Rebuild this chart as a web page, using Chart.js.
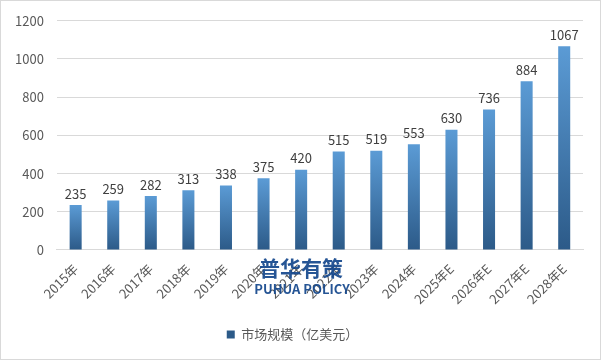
<!DOCTYPE html>
<html>
<head>
<meta charset="utf-8">
<script src="https://cdn.jsdelivr.net/npm/chart.js@4"></script>
<style>
  html, body { margin: 0; padding: 0; background: #fff; }
  #wrap { width: 601px; height: 360px; position: relative; }
</style>
</head>
<body>
<div id="wrap"><canvas id="chart"></canvas></div>
<script>
// categorie e valori
const anni = ["2015年", "2016年", "2017年", "2018年", "2019年", "2020年", "2021年", "2022年", "2023年", "2024年", "2025年E", "2026年E", "2027年E", "2028年E"];
const mercato = [235, 259, 282, 313, 338, 375, 420, 515, 519, 553, 630, 736, 884, 1067];
const tickY = [0, 200, 400, 600, 800, 1000, 1200];
const nomeSerie = "市场规模（亿美元）";

const font = "'Noto Sans CJK SC', 'Open Sans', sans-serif";

// gradiente per ogni barra (chiaro in alto, scuro in basso)
function sfumatura(ctx) {
  const chart = ctx.chart;
  const area = chart.chartArea;
  if (!area || ctx.type !== "data") return "#3f78b3";
  const y = chart.scales.y;
  const top = y.getPixelForValue(ctx.parsed.y);
  const bot = y.getPixelForValue(0);
  const g = chart.ctx.createLinearGradient(0, top, 0, bot);
  g.addColorStop(0, "#5b9bd5");
  g.addColorStop(1, "#2c5a88");
  return g;
}

// etichette sopra le barre
const etichette = {
  id: "etichette",
  afterDatasetsDraw(chart) {
    const c = chart.ctx;
    c.save();
    c.font = "13px " + font;
    c.fillStyle = "#404040";
    c.textAlign = "center";
    c.textBaseline = "bottom";
    chart.getDatasetMeta(0).data.forEach((bar, i) => {
      c.fillText(mercato[i], bar.x, bar.y - 5);
    });
    c.restore();
  }
};

// bordo esterno e marchio
const cornice = {
  id: "cornice",
  beforeDraw(chart) {
    const c = chart.ctx;
    c.save();
    c.fillStyle = "#fff";
    c.fillRect(0, 0, chart.width, chart.height);
    c.strokeStyle = "#d9d9d9";
    c.lineWidth = 1;
    c.strokeRect(0.5, 0.5, chart.width - 1, chart.height - 1);
    c.restore();
  },
  afterDraw(chart) {
    const c = chart.ctx;
    c.save();
    c.textAlign = "center";
    c.textBaseline = "middle";
    c.fillStyle = "rgba(20, 70, 140, 0.92)";
    c.font = "bold 21px " + font;
    c.fillText("普华有策", 301, 268);
    c.font = "bold 13px " + font;
    c.fillText("PUHUA POLICY", 302, 289);
    c.restore();
  }
};

new Chart(document.getElementById("chart"), {
  type: "bar",
  data: {
    labels: anni,
    datasets: [{
      label: nomeSerie,
      data: mercato,
      backgroundColor: sfumatura,
      barPercentage: 0.32,
      categoryPercentage: 1
    }]
  },
  options: {
    responsive: true,
    maintainAspectRatio: false,
    animation: false,
    layout: { padding: { left: 2, right: 18, top: 7, bottom: 9 } },
    plugins: {
      tooltip: { enabled: false },
      legend: {
        position: "bottom",
        labels: {
          font: { family: font, size: 13 },
          color: "#595959",
          boxWidth: 8,
          boxHeight: 8,
          padding: 18
        }
      }
    },
    scales: {
      x: {
        grid: { display: false },
        border: { color: "#d9d9d9" },
        ticks: {
          minRotation: 45,
          maxRotation: 45,
          autoSkip: false,
          padding: 3,
          font: { family: font, size: 13 },
          color: "#595959"
        }
      },
      y: {
        min: 0,
        max: 1200,
        afterBuildTicks: (axis) => { axis.ticks = tickY.map(v => ({ value: v })); },
        grid: { color: "#d9d9d9", drawTicks: false },
        border: { display: false },
        ticks: {
          padding: 13,
          callback: (v) => String(v),
          font: { family: font, size: 13 },
          color: "#595959"
        }
      }
    }
  },
  plugins: [cornice, etichette]
});
</script>
</body>
</html>
